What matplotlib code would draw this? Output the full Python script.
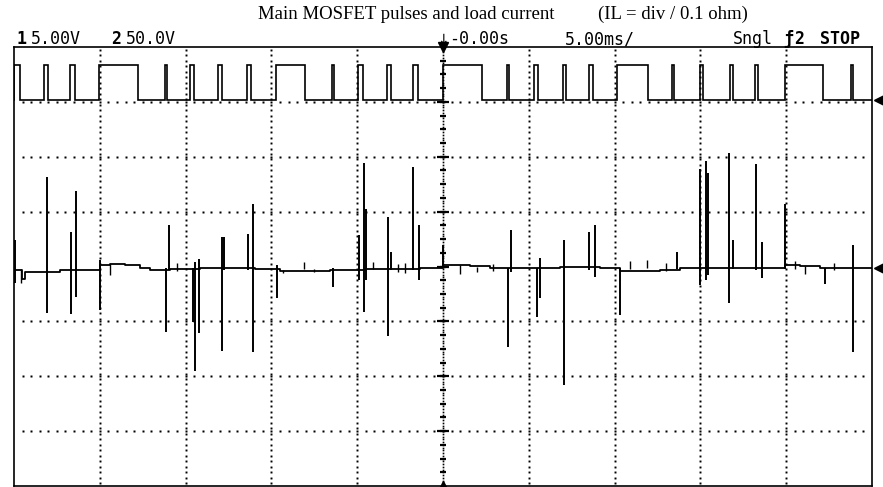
import numpy as np
import matplotlib.pyplot as plt

# screen: 10 div x 5 ms/div (trigger at centre), 8 div vertical, values in div
# channel 1 (5 V/div): MOSFET gate pulses, rise / fall times in ms
ch1_rise = [-25.00, -23.25, -21.74, -20.02, -16.20, -14.74, -13.11, -11.42,
            -9.73, -6.47, -4.95, -3.26, -1.75, 0.00, 3.73, 5.30, 6.99, 8.51,
            10.14, 13.35, 14.98, 16.73, 18.18, 19.93, 23.78]
ch1_fall = [-24.65, -23.02, -21.45, -17.78, -16.09, -14.51, -12.88, -11.19,
            -8.04, -6.35, -4.66, -3.03, -1.46, 2.27, 3.85, 5.54, 7.17, 8.74,
            11.95, 13.46, 15.15, 16.90, 18.36, 22.15, 23.89]
ch1_low = 3.03
ch1_high = 3.68

# channel 2 (50 V/div): load current, slow baseline (ms, div)
ch2_base_t = [-25.0, -24.54, -24.36, -22.3, -19.99, -19.41, -18.53, -17.66,
              -17.08, -15.91, -14.16, -10.96, -9.50, -8.33, -6.59, -4.55,
              -1.34, 0.0, 1.57, 2.74, 4.20, 6.82, 9.15, 10.32, 11.48, 12.65,
              13.81, 17.02, 19.93, 20.81, 21.97, 25.0]
ch2_base_v = [-0.06, -0.22, -0.10, -0.06, 0.02, 0.05, 0.03, -0.02,
              -0.06, -0.04, -0.03, -0.04, -0.09, -0.08, -0.06, -0.05,
              -0.03, 0.02, 0.01, -0.03, -0.02, -0.01, -0.03, -0.08, -0.09, -0.06,
              -0.03, -0.03, 0.02, 0.01, -0.03, -0.02]

# switching spikes on channel 2: time (ms), top and bottom (div)
spike_t = [-24.94, -23.08, -21.68, -21.39, -19.96, -16.14, -15.97, -14.57,
           -14.48, -14.22, -12.88, -12.76, -11.36, -11.07, -9.67, -6.41,
           -4.90, -4.60, -4.49, -3.21, -3.03, -1.75, -1.40, 0.00, 3.79, 3.96,
           5.48, 5.65, 7.05, 8.51, 8.86, 10.32, 13.64, 14.98, 15.33, 15.44,
           16.67, 16.90, 18.24, 18.59, 19.93, 22.26, 23.89]
spike_top = [0.49, 1.64, 0.62, 1.37, 0.12, -0.02, 0.76, -0.02,
             0.09, 0.14, 0.54, 0.54, 0.60, 1.13, 0.03, -0.02,
             0.58, 1.88, 1.04, 0.91, 0.27, 1.81, 0.76, 0.40, -0.02, 0.67,
             -0.02, 0.16, 0.49, 0.62, 0.76, -0.02, 0.27, 1.77, 1.92, 1.71,
             2.06, 0.49, 1.86, 0.45, 1.13, -0.02, 0.40]
spike_bot = [-0.30, -0.85, -0.87, -0.55, -0.79, -1.20, -0.06, -1.01,
             -1.90, -1.21, -1.54, -0.06, -0.06, -1.56, -0.57, -0.37,
             -0.24, -0.83, -0.24, -1.27, -0.06, -0.06, -0.24, -0.02, -1.47, -0.10,
             -0.92, -0.57, -2.16, -0.06, -0.19, -0.88, -0.04, -0.33, -0.24, -0.15,
             -0.66, -0.04, -0.06, -0.21, -0.04, -0.32, -1.56]

# small noise glitches on the channel 2 baseline
glitch_t = [-24.6, -19.4, -15.5, -9.3, -8.1, -7.5, -4.1, -2.6, -2.2, 1.0,
            2.0, 2.9, 10.9, 11.9, 13.0, 20.5, 21.1, 22.8]
glitch_lo = [-0.30, -0.15, -0.08, -0.12, -0.04, -0.10, -0.05, -0.10, -0.12, -0.14,
             -0.10, -0.08, -0.04, -0.02, -0.08, -0.04, -0.14, -0.06]
glitch_hi = [-0.05, 0.05, 0.06, -0.06, 0.08, -0.04, 0.08, 0.04, 0.06, 0.02,
             0.00, 0.05, 0.10, 0.12, 0.06, 0.10, 0.01, 0.06]

W, H = 883, 487
fig = plt.figure(figsize=(W / 100, H / 100), dpi=100)
fig.patch.set_facecolor('white')
ax = fig.add_axes([14 / W, 1 / H, 858 / W, 439 / H])
ax.set_xlim(-25, 25)
ax.set_ylim(-4, 4)
ax.set_xticks([])
ax.set_yticks([])
for s in ax.spines.values():
    s.set_linewidth(1.2)
    s.set_color('black')

# dotted graticule
for gx in np.arange(-20, 21, 5):
    if gx == 0:
        continue
    yy = np.arange(-3.95, 4.0, 0.1)
    ax.plot(np.full_like(yy, gx), yy, ls='none', marker='s', ms=1.4,
            mfc='black', mec='none')
for gy in [-3, -2, -1, 1, 2, 3]:
    xx = np.arange(-24.5, 25.0, 0.5)
    ax.plot(xx, np.full_like(xx, gy), ls='none', marker='s', ms=1.5,
            mfc='black', mec='none')

# centre axis with tick marks
yy = np.arange(-4, 4.01, 0.05)
ax.plot(np.zeros_like(yy), yy, ls='none', marker='s', ms=1.2, mfc='black', mec='none')
ym = np.arange(-3.75, 4.0, 0.25)
ax.plot(np.zeros_like(ym), ym, ls='none', marker='_', ms=5, mew=1.6, color='black')
yM = np.arange(-3, 4, 1)
ax.plot(np.zeros_like(yM), yM, ls='none', marker='_', ms=9, mew=1.6, color='black')

# channel 1 pulse trace
t1, v1 = [], []
for r, f in zip(ch1_rise, ch1_fall):
    t1 += [r, r, f, f]
    v1 += [ch1_low, ch1_high, ch1_high, ch1_low]
t1.append(25.0)
v1.append(ch1_low)
ax.plot(t1, v1, color='black', lw=1.2, solid_joinstyle='miter')

# channel 2 trace
ax.plot(ch2_base_t, ch2_base_v, drawstyle='steps-post', color='black', lw=1.3)
ax.vlines(spike_t, spike_bot, spike_top, color='black', lw=1.4)
ax.vlines(glitch_t, glitch_lo, glitch_hi, color='black', lw=1.0)

# trigger and ground markers
ax.plot([0], [4], marker='v', ms=7, color='black', clip_on=False)
ax.plot([0], [-4], marker='^', ms=7, color='black', clip_on=False)
ax.plot([25.4, 25.4], [ch1_low, ch2_base_v[-1]], ls='none', marker='<', ms=7,
        color='black', clip_on=False)

# title and scope status line
serif = 'Liberation Serif'
fig.text(258 / W, 1 - 19 / H, 'Main MOSFET pulses and load current', family=serif,
         size=13.5, va='baseline', ha='left')
fig.text(598 / W, 1 - 19 / H, '(IL = div / 0.1 ohm)', family=serif,
         size=13.5, va='baseline', ha='left')

mono = 'DejaVu Sans Mono'
yb = 1 - 44 / H
fs = 12
fig.text(17 / W, yb, '1', family=mono, size=fs, weight='bold', va='baseline')
fig.text(31 / W, yb, '5.00V', family=mono, size=fs, va='baseline')
fig.text(111 / W, yb, '2', family=mono, size=fs, weight='bold', va='baseline')
fig.text(126 / W, yb, '50.0V', family=mono, size=fs, va='baseline')
fig.text(437 / W, yb, '\u2193', family='DejaVu Sans', size=10, va='baseline')
fig.text(449 / W, yb, '-0.00s', family=mono, size=fs, va='baseline')
fig.text(565 / W, yb, '5.00ms/', family=mono, size=fs, va='baseline')
fig.text(733 / W, yb, 'Sngl', family=mono, size=fs, va='baseline')
fig.text(783 / W, yb, '\u0192', family=mono, size=fs, weight='bold', va='baseline')
fig.text(794 / W, yb, '2', family=mono, size=fs, weight='bold', va='baseline')
fig.text(820 / W, yb, 'STOP', family=mono, size=fs, weight='bold', va='baseline')

fig.savefig('out.png', dpi=100)
